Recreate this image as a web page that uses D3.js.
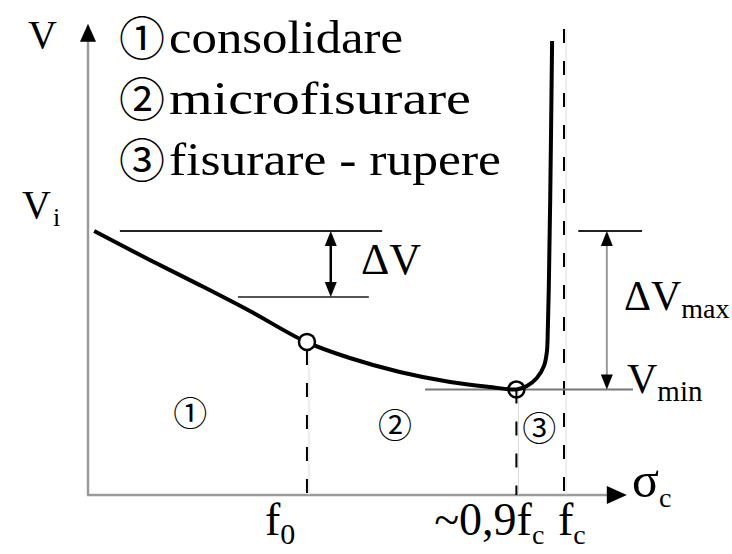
<!DOCTYPE html>
<html>
<head>
<meta charset="utf-8">
<script src="https://cdn.jsdelivr.net/npm/d3@7"></script>
<style>
  html, body { margin: 0; padding: 0; background: #fff; }
  svg { display: block; }
  svg text { font-family: "Liberation Serif", "DejaVu Serif", "Noto Serif", "Times New Roman", Times, serif; }
  svg text.num { font-family: "Noto Sans CJK JP", "Noto Sans CJK SC", "DejaVu Sans", sans-serif; }
</style>
</head>
<body>
<script>
// Ultrasonic pulse velocity V versus compressive stress σc (normalised units: fc = 1, Vi = 1)
const curveSigma = [0.013, 0.130, 0.235, 0.340, 0.458, 0.550, 0.655, 0.761, 0.845, 0.900, 0.922, 0.943, 0.958, 0.964, 0.966, 0.968, 0.971, 0.975];
const curveV     = [1.000, 0.890, 0.795, 0.697, 0.580, 0.519, 0.466, 0.428, 0.409, 0.400, 0.413, 0.443, 0.489, 0.542, 0.625, 0.780, 1.117, 1.720];

const stressValues = [0.46, 0.90, 1.00];          // f0, ~0,9fc, fc
const Vi = 1.00, Vf0 = 0.58, Vmin = 0.40, Vlow = 0.75;

const legendSymbols = ["①", "②", "③"];
const legendLabels  = ["consolidare", "microfisurare", "fisurare - rupere"];
const zoneSigma = [0.215, 0.645, 0.948];
const zoneV     = [0.31, 0.265, 0.255];

const W = 732, H = 554;
const x = d3.scaleLinear().domain([0, 1]).range([88, 564]);
const y = d3.scaleLinear().domain([0, 1]).range([495, 231]);
const sigmaEnd = 1.132, vTop = 1.785;

const svg = d3.select("body").append("svg").attr("width", W).attr("height", H);

// axes with arrow heads
const axisColor = "#9a9a9a";
svg.append("line").attr("x1", x(0)).attr("y1", y(0)).attr("x2", x(0)).attr("y2", y(vTop) + 16)
  .attr("stroke", axisColor).attr("stroke-width", 2.5);
svg.append("line").attr("x1", x(0) - 1).attr("y1", y(0)).attr("x2", x(sigmaEnd) - 18).attr("y2", y(0))
  .attr("stroke", axisColor).attr("stroke-width", 2.5);
svg.append("path").attr("fill", "#000")
  .attr("d", `M${x(0)},${y(vTop)} L${x(0) - 8},${y(vTop) + 18} L${x(0) + 8},${y(vTop) + 18} Z`);
svg.append("path").attr("fill", "#000")
  .attr("d", `M${x(sigmaEnd)},${y(0)} L${x(sigmaEnd) - 20},${y(0) - 9} L${x(sigmaEnd) - 20},${y(0) + 9} Z`);

// vertical stress markers (thin guide + dashes)
function vDashed(s, vFrom, offset) {
  const g = svg.append("g");
  g.append("line").attr("x1", x(s) + 2).attr("x2", x(s) + 2).attr("y1", y(vFrom) + offset).attr("y2", y(0))
    .attr("stroke", "#dcdcdc").attr("stroke-width", 1);
  g.append("line").attr("x1", x(s)).attr("x2", x(s)).attr("y1", y(vFrom) + offset).attr("y2", y(0))
    .attr("stroke", "#000").attr("stroke-width", 2).attr("stroke-dasharray", "14,18");
}
vDashed(stressValues[0], Vf0, 9);
vDashed(stressValues[1], Vmin, 0);
vDashed(stressValues[2], vTop - 0.02, 0);

// horizontal reference lines
function hLine(s0, s1, v, color) {
  svg.append("line").attr("x1", x(s0)).attr("x2", x(s1)).attr("y1", y(v)).attr("y2", y(v))
    .attr("stroke", color).attr("stroke-width", 2);
}
hLine(0.067, 0.618, Vi, "#222");
hLine(0.315, 0.59, Vlow, "#555");
hLine(1.03, 1.164, Vi, "#222");
hLine(0.708, 1.145, Vmin, "#777");

// double-headed dimension arrows
function dimArrow(s, v0, v1, color, width) {
  const xs = x(s), ya = y(v0), yb = y(v1);
  svg.append("line").attr("x1", xs).attr("x2", xs).attr("y1", ya + 12).attr("y2", yb - 12)
    .attr("stroke", color).attr("stroke-width", width);
  svg.append("path").attr("fill", "#000")
    .attr("d", `M${xs},${ya} L${xs - 6},${ya + 15} L${xs + 6},${ya + 15} Z`);
  svg.append("path").attr("fill", "#000")
    .attr("d", `M${xs},${yb} L${xs - 6},${yb - 15} L${xs + 6},${yb - 15} Z`);
}
dimArrow(0.51, Vi, Vlow, "#000", 2.5);
dimArrow(1.09, Vi, Vmin, "#999", 2);

// velocity curve
const line = d3.line().x((d, i) => x(curveSigma[i])).y((d, i) => y(curveV[i])).curve(d3.curveCatmullRom.alpha(0.5));
svg.append("path").datum(curveV).attr("d", line)
  .attr("fill", "none").attr("stroke", "#000").attr("stroke-width", 4).attr("stroke-linejoin", "round");

// characteristic points
svg.append("circle").attr("cx", x(stressValues[0])).attr("cy", y(Vf0)).attr("r", 8)
  .attr("fill", "#fff").attr("stroke", "#000").attr("stroke-width", 2.5);
svg.append("circle").attr("cx", x(stressValues[1])).attr("cy", y(Vmin)).attr("r", 8)
  .attr("fill", "none").attr("stroke", "#000").attr("stroke-width", 2.5);

// legend
const legendWidths = [234, 302, 332];
legendLabels.forEach((t, i) => {
  const yy = 53 + i * 61;
  svg.append("text").attr("class", "num").attr("x", 142).attr("y", yy + 2).attr("text-anchor", "middle")
    .attr("font-size", 46).text(legendSymbols[i]);
  svg.append("text").attr("x", 169).attr("y", yy).attr("font-size", 46)
    .attr("textLength", legendWidths[i]).attr("lengthAdjust", "spacingAndGlyphs").text(t);
});

// zone numbers
legendSymbols.forEach((s, i) => {
  svg.append("text").attr("class", "num").attr("x", x(zoneSigma[i])).attr("y", y(zoneV[i]) + 13)
    .attr("text-anchor", "middle").attr("font-size", 34).text(s);
});

// axis titles and level labels
function label(main, subText, xPos, yPos, size, subSize, anchor, subDx) {
  const t = svg.append("text").attr("x", xPos).attr("y", yPos).attr("font-size", size)
    .attr("text-anchor", anchor || "start");
  t.append("tspan").text(main);
  if (subText) t.append("tspan").attr("font-size", subSize).attr("dx", subDx || 0)
    .attr("dy", size * 0.2).text(subText);
  return t;
}
label("V", null, 28, 48, 40, 0);
label("V", "i", 22, 218, 40, 26, "start", 2);
label("ΔV", null, 361, 274, 44, 0);
label("ΔV", "max", 624, 310, 42, 28);
label("V", "min", 627, 393, 42, 29);
label("σ", "c", 632, 497, 50, 28);
label("f", "0", x(stressValues[0]) - 42, 535, 46, 30);
label("~0,9f", "c", x(stressValues[1]) + 28, 535, 46, 28, "end");
label("f", "c", x(stressValues[2]) - 6, 535, 46, 28);
</script>
</body>
</html>
